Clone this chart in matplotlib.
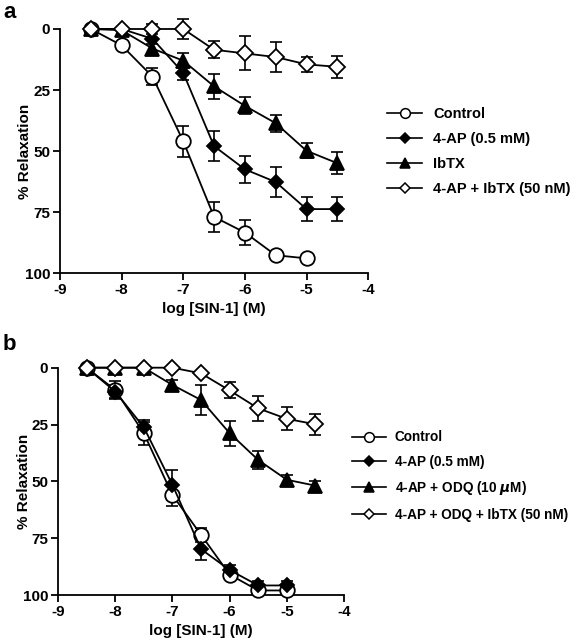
import matplotlib
matplotlib.use("Agg")
import matplotlib.pyplot as plt
import matplotlib.lines as mlines

plt.rcParams['font.family'] = ['Liberation Sans', 'DejaVu Sans']
plt.rcParams['font.weight'] = 'bold'
plt.rcParams['mathtext.default'] = 'it'

# ---------------- Panel a data ----------------
a_x = [-8.5, -8, -7.5, -7, -6.5, -6, -5.5, -5, -4.5]
a_control_x = [-8.5, -8, -7.5, -7, -6.5, -6, -5.5, -5]
a_control = [0, 6.7, 19.5, 46, 77, 83.4, 92.7, 94]
a_control_err = [0, 0, 3.5, 6.4, 6, 5, 0, 0]
a_4ap = [0, 0, 4, 18, 48, 57.5, 62.7, 73.8, 73.8]
a_4ap_err = [0, 0, 0, 3, 6, 5.5, 6, 5, 5]
a_ibtx = [0, 0.5, 8, 13, 23.5, 31.5, 38.6, 49.9, 55]
a_ibtx_err = [0, 0, 2, 3, 5, 3.5, 3.5, 3, 4.5]
a_both = [0, 0, 0, 0, 8.5, 10, 11.5, 14.5, 15.5]
a_both_err = [0, 0, 2, 4, 3.5, 7, 6, 3, 4.5]
a_labels = ['Control', '4-AP (0.5 mM)', 'IbTX', '4-AP + IbTX (50 nM)']

# ---------------- Panel b data ----------------
b_x = [-8.5, -8, -7.5, -7, -6.5, -6, -5.5, -5, -4.5]
b_short_x = [-8.5, -8, -7.5, -7, -6.5, -6, -5.5, -5]
b_control = [0, 9.8, 28.8, 56, 73.5, 91, 98, 98]
b_control_err = [0, 4, 5, 5, 3, 2, 0, 0]
b_4ap = [0, 10.5, 26.2, 51.5, 79.8, 89, 95.8, 95.8]
b_4ap_err = [0, 3, 3, 6.5, 5, 2, 2, 2]
b_odq = [0, 0, 0, 7.6, 14.2, 28.8, 40.6, 49.3, 51.9]
b_odq_err = [0, 0, 0, 2, 6.5, 5.5, 4, 2, 2]
b_all = [0, 0, 0, 0, 2.5, 10, 17.9, 22.5, 24.9]
b_all_err = [0, 0, 0, 0, 0, 3.5, 5.5, 5, 4.5]
b_labels = ['Control', '4-AP (0.5 mM)', r'4-AP + ODQ (10 $\mu$M)', '4-AP + ODQ + IbTX (50 nM)']

xticks = [-9, -8, -7, -6, -5, -4]
yticks = [0, 25, 50, 75, 100]

fig = plt.figure(figsize=(5.77, 6.4), dpi=100)

def style_axes(ax, ylab_x):
    ax.set_xlim(-9, -4)
    ax.set_ylim(100, 0)
    ax.set_xticks(xticks)
    ax.set_yticks(yticks)
    ax.set_xticklabels([str(t) for t in xticks])
    ax.spines['top'].set_visible(False)
    ax.spines['right'].set_visible(False)
    for s in ['left', 'bottom']:
        ax.spines[s].set_linewidth(1.3)
    ax.tick_params(direction='out', length=5, width=1.3, labelsize=11, pad=2)
    for lab in ax.get_xticklabels() + ax.get_yticklabels():
        lab.set_fontweight('bold')
    ax.set_ylabel('% Relaxation', fontsize=11, fontweight='bold')
    ax.yaxis.set_label_coords(ylab_x, 0.5)
    ax.set_xlabel('log [SIN-1] (M)', fontsize=11, fontweight='bold', labelpad=4)

def series(ax, x, y, err, marker, face, ms, label):
    ax.errorbar(x, y, yerr=err, fmt='none', ecolor='black', elinewidth=1.2,
                capsize=4.5, capthick=1.2, zorder=2, clip_on=False)
    line, = ax.plot(x, y, color='black', lw=1.3, marker=marker, ms=ms,
                    mfc=face, mec='black', mew=1.3, zorder=3, clip_on=False,
                    label=label)
    return line

# Panel a
axa = fig.add_axes([0.104, 0.5734, 0.534, 0.3813])
style_axes(axa, -0.092)
ha = []
ha.append(series(axa, a_control_x, a_control, a_control_err, 'o', 'white', 10.5, a_labels[0]))
ha.append(series(axa, a_x, a_4ap, a_4ap_err, 'D', 'black', 7.5, a_labels[1]))
ha.append(series(axa, a_x, a_ibtx, a_ibtx_err, '^', 'black', 10.5, a_labels[2]))
ha.append(series(axa, a_x, a_both, a_both_err, 'D', 'white', 8, a_labels[3]))

# Panel b
axb = fig.add_axes([0.1005, 0.0703, 0.4957, 0.3552])
style_axes(axb, -0.094)
hb = []
hb.append(series(axb, b_short_x, b_control, b_control_err, 'o', 'white', 10.5, b_labels[0]))
hb.append(series(axb, b_short_x, b_4ap, b_4ap_err, 'D', 'black', 7.5, b_labels[1]))
hb.append(series(axb, b_x, b_odq, b_odq_err, '^', 'black', 10.5, b_labels[2]))
hb.append(series(axb, b_x, b_all, b_all_err, 'D', 'white', 8, b_labels[3]))

def make_leg(handles, labels, anchor, fs, hl, tp, ls):
    hs = []
    for h in handles:
        m = h.get_marker()
        ms = {'o': 7, 'D': 5, '^': 7.5}[m]
        hs.append(mlines.Line2D([], [], color='black', lw=1.2, marker=m, ms=ms,
                                mfc=h.get_markerfacecolor(), mec='black', mew=1.1))
    leg = fig.legend(hs, labels, loc='center left', bbox_to_anchor=anchor,
                     frameon=False, fontsize=fs, handlelength=hl, handletextpad=tp,
                     labelspacing=ls, borderaxespad=0, borderpad=0)
    for t in leg.get_texts():
        t.set_fontweight('bold')
    return leg

make_leg(ha, a_labels, (387 / 577, 1 - 151.5 / 640), 10.5, 2.4, 0.75, 0.75)
make_leg(hb, b_labels, (352 / 577, 1 - 476 / 640), 9.8, 2.5, 0.65, 0.76)

fig.text(0.005, 1 - 12 / 640, 'a', fontsize=16, fontweight='bold', va='center')
fig.text(0.005, 1 - 345 / 640, 'b', fontsize=16, fontweight='bold', va='center')

fig.savefig('out.png', dpi=100)
